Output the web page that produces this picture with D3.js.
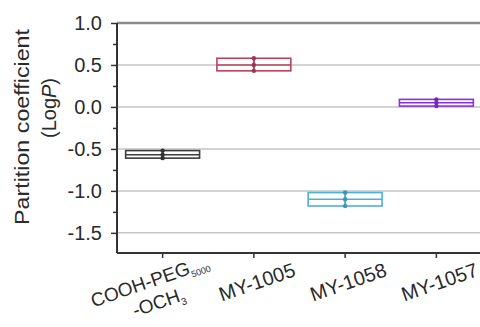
<!DOCTYPE html>
<html>
<head>
<meta charset="utf-8">
<script src="https://cdn.jsdelivr.net/npm/d3@7"></script>
<style>
  body { margin: 0; background: #fff; }
  text { font-family: "Liberation Sans", Arial, sans-serif; }
</style>
</head>
<body>
<div id="chart"></div>
<script>
// data
var categories = ["COOH-PEG", "MY-1005", "MY-1058", "MY-1057"];
var colors = ["#3c3c3c", "#b8435f", "#4db2d2", "#8a2fe0"];
var pointsPEG = [-0.52, -0.57, -0.61];
var points1005 = [0.58, 0.50, 0.43];
var points1058 = [-1.02, -1.10, -1.18];
var points1057 = [0.09, 0.05, 0.01];
var majorTicks = [-1.5, -1.0, -0.5, 0.0, 0.5, 1.0];
var minorTicks = [-1.25, -0.75, -0.25, 0.25, 0.75];
var gridValues = [-1.5, -1.0, -0.5, 0.0, 0.5];

var allPoints = [pointsPEG, points1005, points1058, points1057];

var width = 480, height = 327;
var mLeft = 117, mRight = 482, mTop = 23, mBottom = 253;

var svg = d3.select("#chart").append("svg")
  .attr("width", width)
  .attr("height", height);

var x = d3.scaleBand().domain(categories).range([mLeft, mRight]).padding(0);
var y = d3.scaleLinear().domain([-1.74, 1.0]).range([mBottom, mTop]);

// grid
svg.selectAll(".grid")
  .data(gridValues)
  .enter()
  .append("line")
  .attr("x1", mLeft).attr("x2", width)
  .attr("y1", function(d){return y(d);})
  .attr("y2", function(d){return y(d);})
  .attr("stroke", "#c4c4c4")
  .attr("stroke-width", 1.5);

// top line
svg.append("line")
  .attr("x1", mLeft).attr("x2", width)
  .attr("y1", y(1.0)).attr("y2", y(1.0))
  .attr("stroke", "#8a8a8a")
  .attr("stroke-width", 2.5);

// boxes
var boxData = allPoints.map(function(p, i){
  var s = p.slice().sort(d3.ascending);
  return {name: categories[i], color: colors[i], pts: p,
    lo: s[0], hi: s[s.length-1], med: d3.median(s)};
});

var bw = x.bandwidth()*0.81;

var g = svg.selectAll(".box")
  .data(boxData)
  .enter()
  .append("g")
  .attr("transform", function(d){return "translate(" + (x(d.name) + x.bandwidth()/2) + ",0)";});

g.append("rect")
  .attr("x", -bw/2)
  .attr("width", bw)
  .attr("y", function(d){return y(d.hi);})
  .attr("height", function(d){return y(d.lo) - y(d.hi);})
  .attr("fill", "none")
  .attr("stroke", function(d){return d.color;})
  .attr("stroke-width", 1.6);

g.append("line")
  .attr("x1", -bw/2).attr("x2", bw/2)
  .attr("y1", function(d){return y(d.med);})
  .attr("y2", function(d){return y(d.med);})
  .attr("stroke", function(d){return d.color;})
  .attr("stroke-width", 1.6);

g.append("line")
  .attr("y1", function(d){return y(d.hi);})
  .attr("y2", function(d){return y(d.lo);})
  .attr("stroke", function(d){return d.color;})
  .attr("stroke-width", 2);

g.selectAll("circle")
  .data(function(d){return d.pts.map(function(v){return {v: v, color: d.color};});})
  .enter()
  .append("circle")
  .attr("r", 2.2)
  .attr("cy", function(d){return y(d.v);})
  .attr("fill", function(d){return d3.color(d.color).darker(0.5);});

// axes
svg.append("g")
  .attr("transform", "translate(" + mLeft + ",0)")
  .call(d3.axisLeft(y).tickValues(minorTicks).tickSize(4).tickFormat(""))
  .call(function(a){a.select(".domain").remove();})
  .selectAll("line").attr("stroke", "#333").attr("stroke-width", 1.5);

var yAxis = svg.append("g")
  .attr("transform", "translate(" + mLeft + ",0)")
  .call(d3.axisLeft(y).tickValues(majorTicks).tickSize(6).tickSizeOuter(0).tickPadding(9)
    .tickFormat(d3.format(".1f")));
yAxis.select(".domain").attr("stroke", "#333").attr("stroke-width", 2)
  .attr("d", "M0," + mTop + "V" + mBottom);
yAxis.selectAll("line").attr("stroke", "#333").attr("stroke-width", 1.5);
yAxis.selectAll("text")
  .attr("font-size", 20)
  .attr("fill", "#2a2a2a")
  .attr("font-family", "Liberation Sans, Arial, sans-serif")
  .text(function(d){return d3.format(".1f")(d).replace("\u2212", "-");});

var xAxis = svg.append("g")
  .attr("transform", "translate(0," + mBottom + ")")
  .call(d3.axisBottom(x).tickSize(5).tickSizeOuter(0).tickFormat(""));
xAxis.select(".domain").attr("stroke", "#333").attr("stroke-width", 2)
  .attr("d", "M" + mLeft + ",0H" + width);
xAxis.selectAll("line").attr("stroke", "#333").attr("stroke-width", 1.5);

// x labels, rotated
var ang = -19;
categories.forEach(function(c, i){
  var cx = x(c) + x.bandwidth()/2;
  if (i === 0) {
    var t = svg.append("text")
      .attr("transform", "translate(" + (cx - 13) + ",281) rotate(" + ang + ")")
      .attr("text-anchor", "middle")
      .attr("dy", "0.35em")
      .attr("font-size", 19)
      .attr("fill", "#2a2a2a");
    t.append("tspan").text("COOH-PEG");
    t.append("tspan").attr("font-size", 9).attr("dy", "0.45em").text("5000");
    var t2 = svg.append("text")
      .attr("transform", "translate(" + (cx - 4) + ",302) rotate(" + ang + ")")
      .attr("text-anchor", "middle")
      .attr("dy", "0.35em")
      .attr("font-size", 19)
      .attr("fill", "#2a2a2a");
    t2.append("tspan").text("-OCH");
    t2.append("tspan").attr("font-size", 10).attr("dy", "0.45em").text("3");
  } else {
    svg.append("text")
      .attr("transform", "translate(" + (cx + 3) + ",282) rotate(" + ang + ")")
      .attr("text-anchor", "middle")
      .attr("dy", "0.35em")
      .attr("font-size", 20)
      .attr("fill", "#2a2a2a")
      .text(c);
  }
});

// y label
svg.append("text")
  .attr("transform", "translate(29,127) rotate(-90)")
  .attr("text-anchor", "middle")
  .attr("font-size", 20)
  .attr("fill", "#2a2a2a")
  .attr("textLength", 196)
  .attr("lengthAdjust", "spacingAndGlyphs")
  .text("Partition coefficient");

var yl = svg.append("text")
  .attr("transform", "translate(56,108) rotate(-90)")
  .attr("text-anchor", "middle")
  .attr("font-size", 20)
  .attr("fill", "#2a2a2a");
yl.append("tspan").text("(Log");
yl.append("tspan").attr("font-style", "italic").text("P");
yl.append("tspan").text(")");
</script>
</body>
</html>
